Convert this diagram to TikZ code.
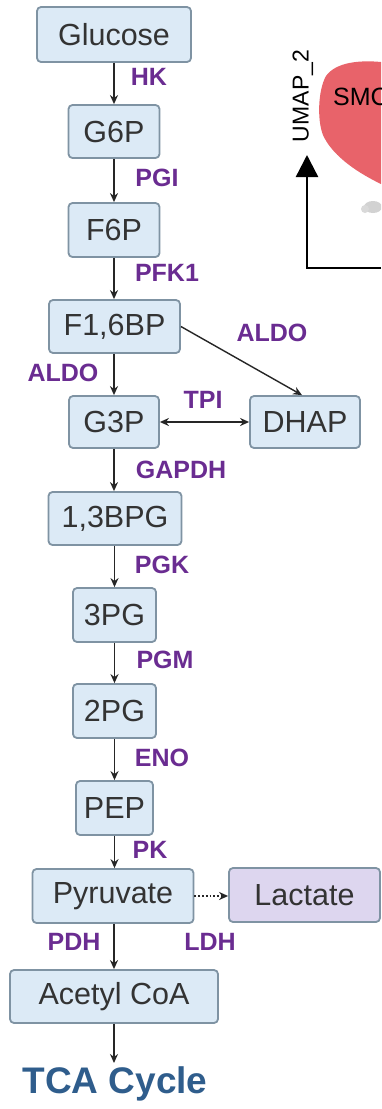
\documentclass[tikz,border=0pt]{standalone}
\usepackage{fontspec}
\setmainfont{Liberation Sans}
\usetikzlibrary{arrows.meta}
\definecolor{boxfill}{HTML}{DCEAF6}
\definecolor{boxdraw}{HTML}{7F93A3}
\definecolor{lacfill}{HTML}{DDD6EF}
\definecolor{txt}{HTML}{333333}
\definecolor{enz}{HTML}{6A2C91}
\definecolor{tca}{HTML}{2F5D8C}
\definecolor{umapred}{HTML}{E8636A}
\definecolor{dotgrey}{HTML}{D2D2D2}
\begin{document}
\begin{tikzpicture}[x=1pt,y=-1pt,
  met/.style={draw=boxdraw, line width=1.8pt, fill=boxfill, rounded corners=4pt,
    text=txt, font=\fontsize{30.5}{35}\selectfont, inner sep=0pt, anchor=center},
  enzlab/.style={text=enz, font=\bfseries\fontsize{25}{30}\selectfont, inner sep=0pt},
  flow/.style={draw=black!85, line width=1.4pt, -{Stealth[length=9pt,width=8pt]}},
  both/.style={draw=black!85, line width=1.4pt, {Stealth[length=9pt,width=8pt]}-{Stealth[length=9pt,width=8pt]}},
  dflow/.style={draw=black!85, line width=1.8pt, dotted, -{Stealth[length=9pt,width=8pt]}}
]
\useasboundingbox (0,0) rectangle (381,1109);
\fill[white] (0,0) rectangle (381,1109);

% UMAP fragment
\begin{scope}
\clip (0,0) rectangle (381,1109);
\fill[umapred] (381,62) .. controls (360,60) and (336,62) .. (326,76)
  .. controls (318,90) and (317,120) .. (323,135)
  .. controls (331,153) and (352,170) .. (381,184) -- cycle;
\fill[dotgrey] (373,207) ellipse (9pt and 6pt);
\fill[dotgrey!85] (365,209) ellipse (4pt and 4pt);
\node[anchor=west, inner sep=0pt, font=\fontsize{25}{30}\selectfont, text=black] (smc) at (333,97) {SMC};
\node[rotate=90, inner sep=0pt, font=\fontsize{23}{28}\selectfont, text=black] (umap) at (303,96) {UMAP\_2};
\coordinate (axR) at (381,268);
\coordinate (axO) at (307,268);
\coordinate (axT) at (307,155);
\draw[line width=2.4pt, -{Triangle[length=22pt,width=22pt]}] (axR) -- (axO) -- (axT);
\end{scope}

% metabolites
\node[met, minimum width=154pt, minimum height=55pt] (glc) at (114,34.5) {Glucose};
\node[met, minimum width=91pt, minimum height=53pt] (g6p) at (114,131.5) {G6P};
\node[met, minimum width=91pt, minimum height=54pt] (f6p) at (114,230) {F6P};
\node[met, minimum width=131pt, minimum height=53pt] (fbp) at (114.5,326.5) {F1,6BP};
\node[met, minimum width=90pt, minimum height=52pt] (g3p) at (114,422) {G3P};
\node[met, minimum width=110pt, minimum height=52pt] (dhap) at (305,422) {DHAP};
\node[met, minimum width=133pt, minimum height=53pt] (bpg) at (115,518.5) {1,3BPG};
\node[met, minimum width=83pt, minimum height=54pt] (pg3) at (114.5,615) {3PG};
\node[met, minimum width=83pt, minimum height=54pt] (pg2) at (114.5,711) {2PG};
\node[met, minimum width=77pt, minimum height=54pt] (pep) at (114.5,808) {PEP};
\node[met, minimum width=161pt, minimum height=54pt] (pyr) at (113,896) {Pyruvate};
\node[met, fill=lacfill, minimum width=151pt, minimum height=54pt] (lac) at (304.5,895) {Lactate};
\node[met, minimum width=208pt, minimum height=53pt] (aca) at (114,996.5) {Acetyl CoA};
\node[text=tca, font=\bfseries\fontsize{37}{42}\selectfont, inner sep=0pt] (tcac) at (115,1084) {TCA Cycle};
\coordinate (tcain) at (114,1063);

% enzymes
\node[enzlab] (hk) at (149,77) {HK};
\node[enzlab] (pgi) at (157,178) {PGI};
\node[enzlab] (pfk) at (167,273) {PFK1};
\node[enzlab] (aldoL) at (63,373) {ALDO};
\node[enzlab] (aldoR) at (272,333) {ALDO};
\node[enzlab] (tpi) at (203,400) {TPI};
\node[enzlab] (gapdh) at (181,470) {GAPDH};
\node[enzlab] (pgk) at (162,565) {PGK};
\node[enzlab] (pgm) at (165,660) {PGM};
\node[enzlab] (eno) at (162,758) {ENO};
\node[enzlab] (pk) at (150,850) {PK};
\node[enzlab] (pdh) at (74,942) {PDH};
\node[enzlab] (ldh) at (210,942) {LDH};

% connectors
\draw[flow] (glc.south) -- (g6p.north);
\draw[flow] (g6p.south) -- (f6p.north);
\draw[flow] (f6p.south) -- (fbp.north -| f6p.south);
\draw[flow] (fbp.south -| g3p.north) -- (g3p.north);
\draw[flow] (fbp.east) -- ([xshift=-3pt]dhap.north);
\draw[both] (g3p.east) -- (dhap.west);
\draw[flow] (g3p.south) -- (bpg.north -| g3p.south);
\draw[flow] (bpg.south -| pg3.north) -- (pg3.north);
\draw[flow] (pg3.south) -- (pg2.north);
\draw[flow] (pg2.south) -- (pep.north);
\draw[flow] (pep.south) -- (pyr.north -| pep.south);
\draw[dflow] (pyr.east) -- (lac.west |- pyr.east);
\draw[flow] (pyr.south -| aca.north) -- (aca.north);
\draw[flow] (aca.south) -- (tcain);
\end{tikzpicture}
\end{document}
